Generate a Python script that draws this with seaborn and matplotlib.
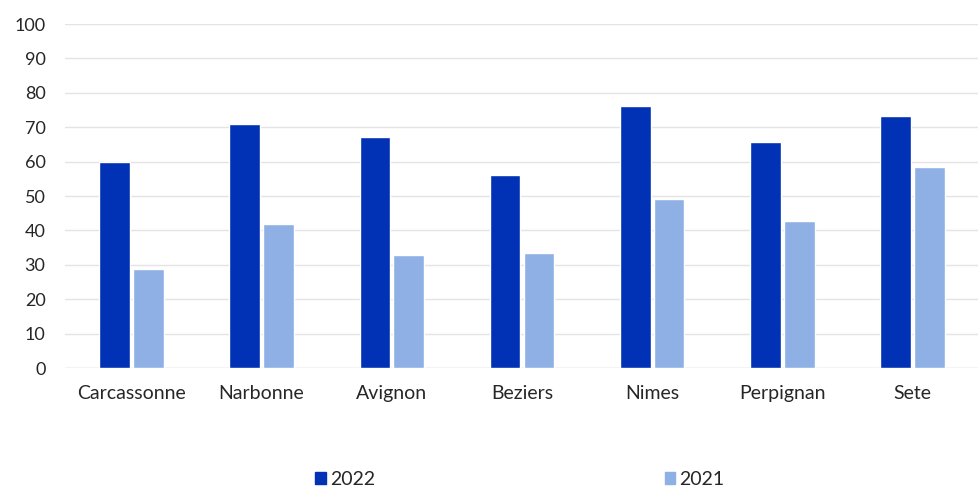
import pandas as pd
import seaborn as sns
import matplotlib.pyplot as plt

cities = ["Carcassonne", "Narbonne", "Avignon", "Beziers", "Nimes", "Perpignan", "Sete"]
values_2022 = [60, 71, 67.2, 56.2, 76.1, 65.8, 73.3]
values_2021 = [28.9, 41.8, 32.9, 33.3, 49.1, 42.6, 58.4]
years = ["2022", "2021"]
colors = ["#0131B4", "#8EB0E4"]

df = pd.DataFrame({
    "city": cities * 2,
    "year": [years[0]] * len(cities) + [years[1]] * len(cities),
    "value": values_2022 + values_2021,
})

sns.set_style("white")
plt.rcParams['font.family'] = ['Lato', 'DejaVu Sans']

fig = plt.figure(figsize=(9.79, 4.93), dpi=100)
ax = fig.add_axes([0.0664, 0.2535, 0.9336, 0.6978])

sns.barplot(data=df, x="city", y="value", hue="year", hue_order=years,
            palette=colors, width=0.52, gap=0.1, ax=ax, legend=False,
            saturation=1)

ax.set_ylim(0, 100)
ax.set_yticks(range(0, 101, 10))
ax.set_xlim(-0.51, len(cities) - 0.49)
ax.grid(axis="y", color="#e4e4e4", linewidth=1)
ax.set_axisbelow(True)
for s in ax.spines.values():
    s.set_visible(False)
ax.axhline(0, color="#d9d9d9", linewidth=1, zorder=0)
ax.set_xlabel("")
ax.set_ylabel("")
ax.tick_params(axis="both", length=0, labelsize=13, labelcolor="#262626")
ax.tick_params(axis="x", pad=12, labelsize=14)
ax.tick_params(axis="y", pad=14)

handles = [plt.Rectangle((0, 0), 1, 1, color=c) for c in colors]
fig.legend(handles, years, loc="lower center", bbox_to_anchor=(0.531, -0.025),
           ncol=2, frameon=False, fontsize=14, handlelength=0.55, handleheight=0.55,
           handletextpad=0.2, columnspacing=14.9)

fig.savefig("out.png", dpi=100)
